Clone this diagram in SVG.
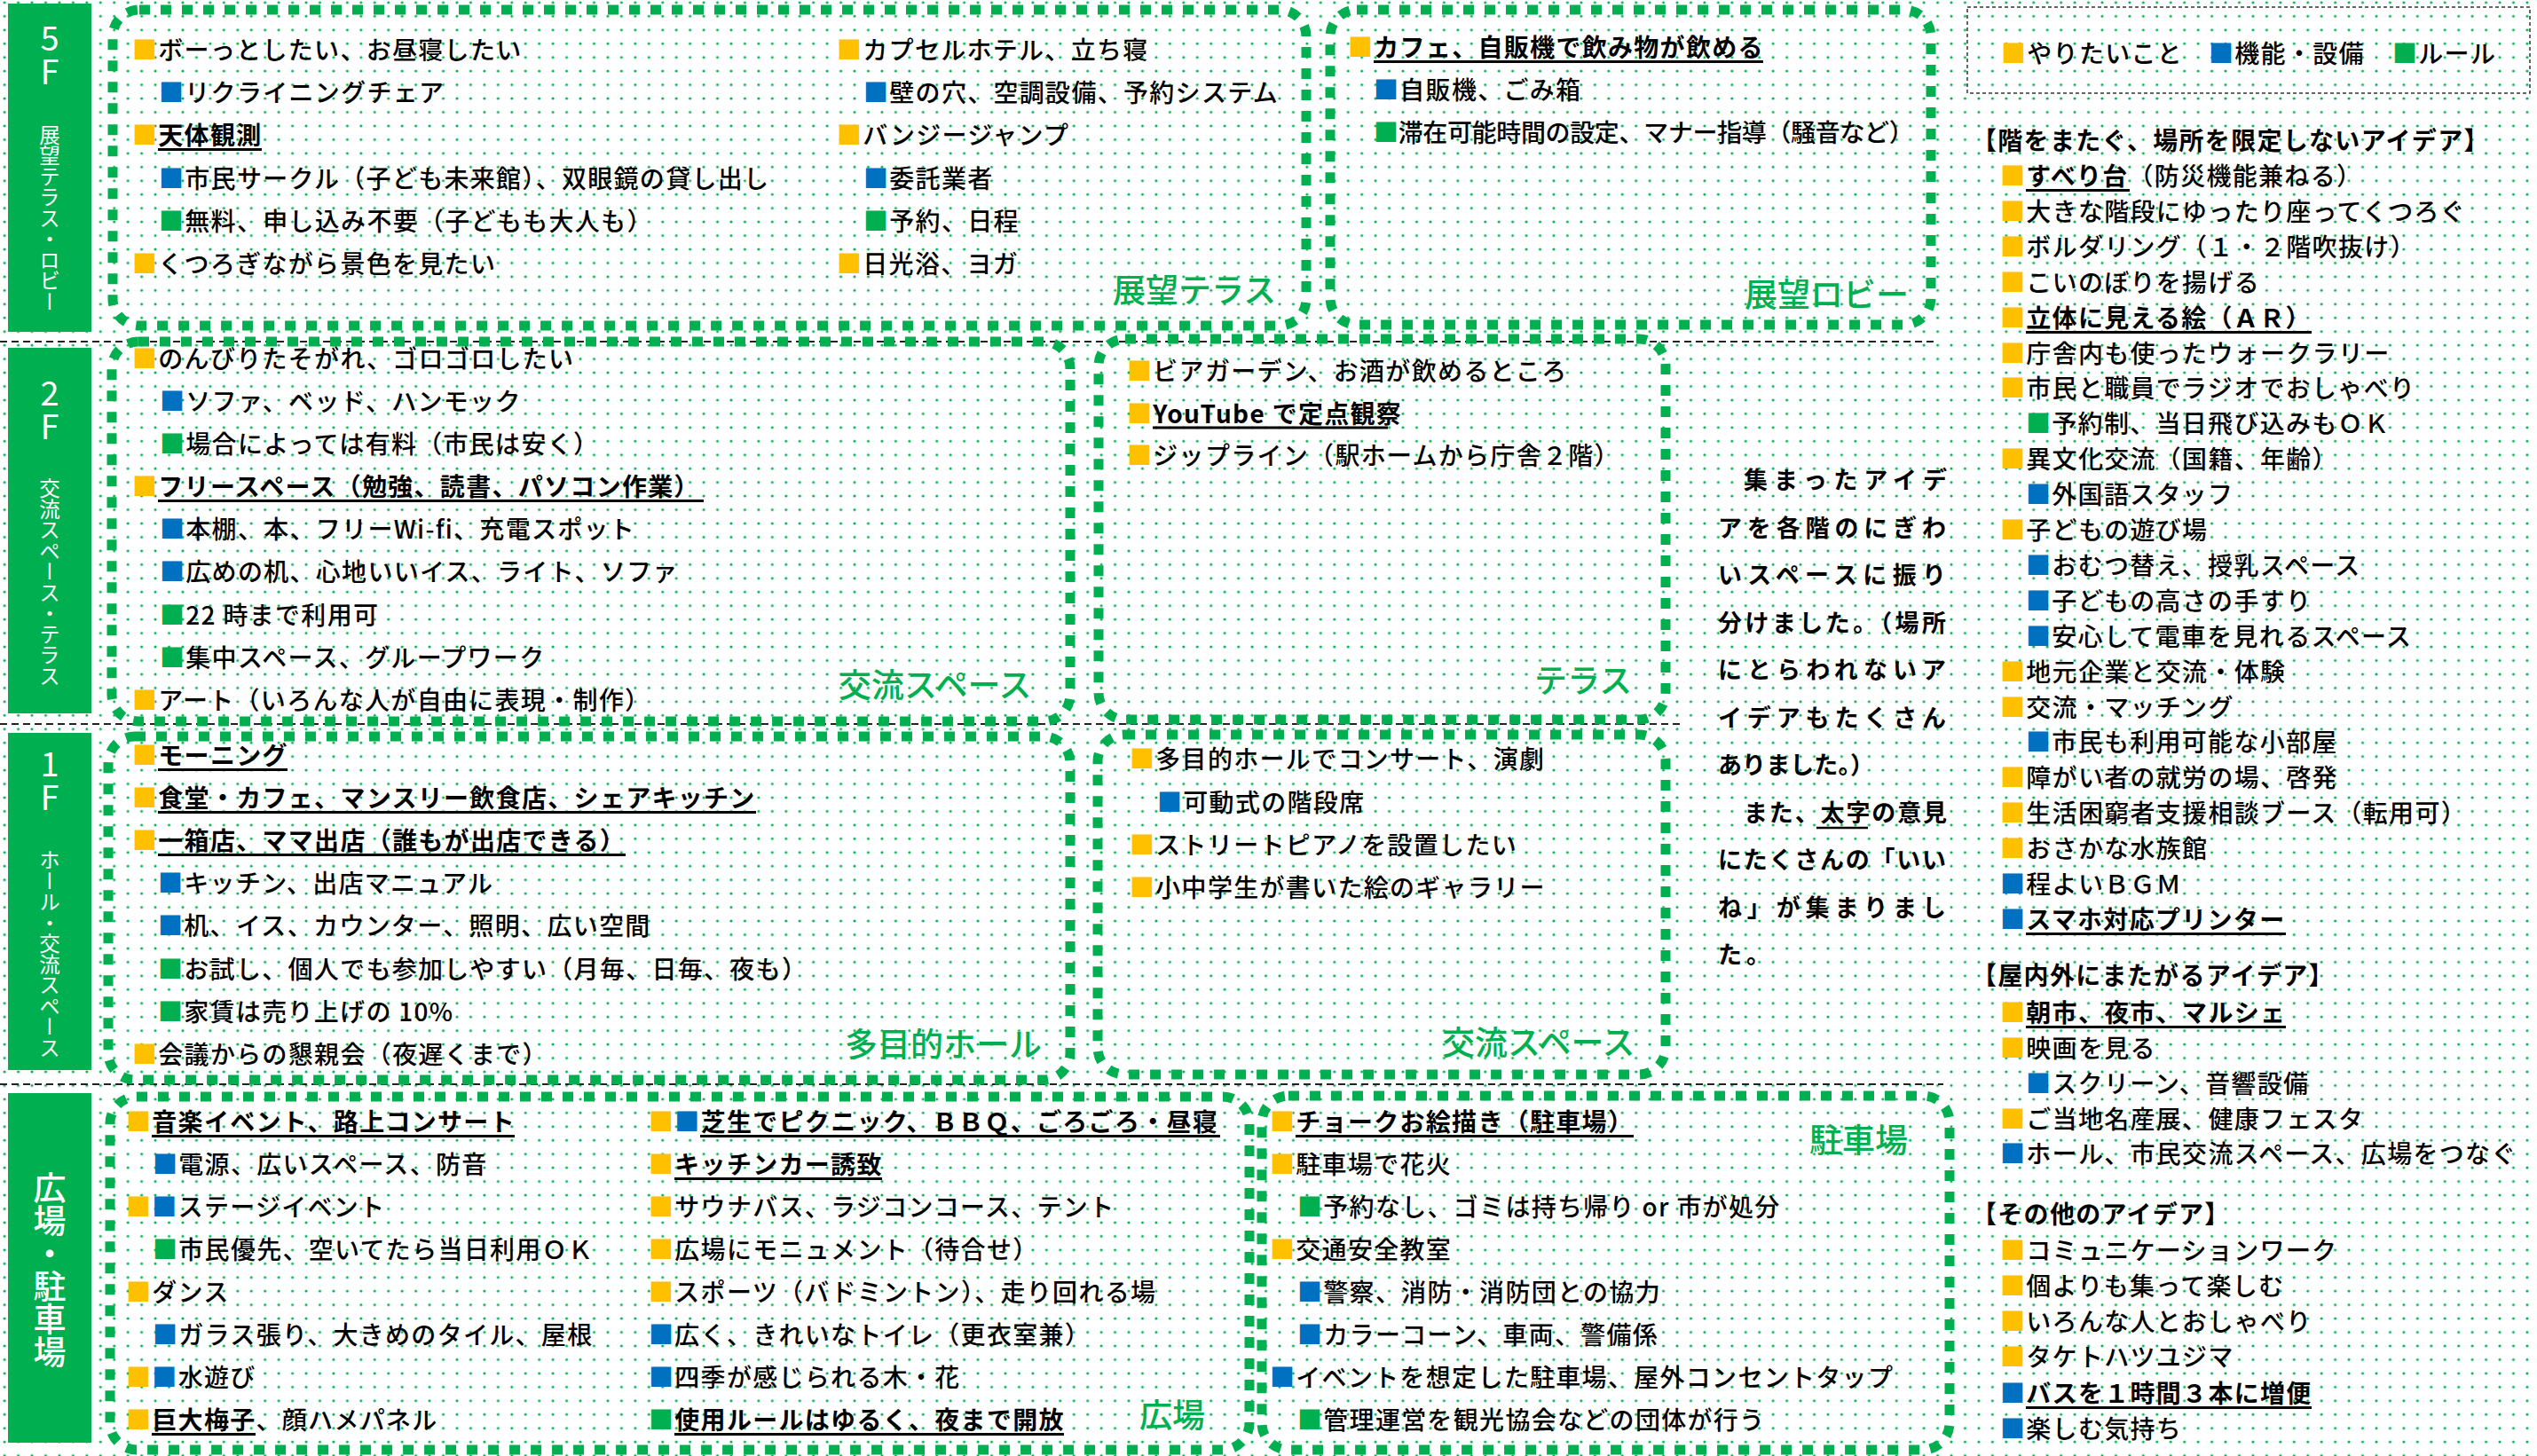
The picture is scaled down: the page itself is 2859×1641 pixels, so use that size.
<svg xmlns="http://www.w3.org/2000/svg" width="2859" height="1641" viewBox="0 0 2859 1641">
<defs>
<pattern id="dots" width="15.45" height="15.45" patternUnits="userSpaceOnUse" x="12.875" y="10.575">
<circle cx="7.725" cy="7.725" r="1.55" fill="#00B050"/>
</pattern>
<style>
text{font-family:"Noto Sans CJK JP","Noto Sans",sans-serif;}
.t{font-size:28px;letter-spacing:1.3px;fill:#000;font-weight:500;}
.b{font-weight:bold;}
.y{fill:#FFC000;}
.u{fill:#0070C0;}
.g{fill:#00B050;}
.box{fill:none;stroke:#00B050;stroke-width:11;stroke-dasharray:12 12;}
.ul{stroke:#000;stroke-width:3;}
.sep{stroke:#222;stroke-width:2;stroke-dasharray:8 5;fill:none;}
.lab{fill:#00B050;}
.num{writing-mode:vertical-rl;text-orientation:upright;fill:#fff;font-size:38px;text-anchor:middle;}
.area{font-size:37px;fill:#00B050;font-weight:500;}
.vt{writing-mode:vertical-rl;fill:#fff;text-anchor:middle;}
.mid{font-size:27px;font-weight:bold;fill:#000;}
</style>
</defs>
<rect width="2859" height="1641" fill="#fff"/>
<rect width="2859" height="1641" fill="url(#dots)"/>

<g id="separators">
<line class="sep" x1="0" y1="385" x2="2180" y2="385"/>
<line class="sep" x1="0" y1="816" x2="1893" y2="816"/>
<line class="sep" x1="0" y1="1222" x2="2190" y2="1222"/>
</g>

<g id="floor-5F-label">
<rect class="lab" x="9" y="4" width="94" height="370"/>
<text class="num" x="56" y="62">5F</text>
<text class="vt" x="56" y="246" font-size="23.5">展望テラス・ロビー</text>
</g>
<g id="floor-2F-label">
<rect class="lab" x="9" y="392" width="94" height="412"/>
<text class="num" x="56" y="462">2F</text>
<text class="vt" x="56" y="656" font-size="23.5">交流スペース・テラス</text>
</g>
<g id="floor-1F-label">
<rect class="lab" x="9" y="826" width="94" height="380"/>
<text class="num" x="56" y="880">1F</text>
<text class="vt" x="56" y="1075" font-size="23.5">ホール・交流スペース</text>
</g>
<g id="floor-plaza-label">
<rect class="lab" x="9" y="1232" width="94" height="394"/>
<text class="vt" x="56" y="1431" font-size="37" font-weight="500">広場・駐車場</text>
</g>

<g id="terrace-5F">
<rect class="box" x="127" y="11" width="1345" height="356" rx="30"/>
<text class="t" x="149" y="67"><tspan class="y">■</tspan>ボーっとしたい、お昼寝したい</text>
<text class="t" x="179" y="115"><tspan class="u">■</tspan>リクライニングチェア</text>
<text class="t" x="149" y="163"><tspan class="y">■</tspan><tspan class="b">天体観測</tspan></text>
<line class="ul" x1="178" y1="168.5" x2="295" y2="168.5"/>
<text class="t" x="179" y="212"><tspan class="u">■</tspan>市民サークル（子ども未来館）、双眼鏡の貸し出し</text>
<text class="t" x="179" y="260"><tspan class="g">■</tspan>無料、申し込み不要（子どもも大人も）</text>
<text class="t" x="149" y="308"><tspan class="y">■</tspan>くつろぎながら景色を見たい</text>
<text class="t" x="943" y="67"><tspan class="y">■</tspan>カプセルホテル、立ち寝</text>
<text class="t" x="973" y="115"><tspan class="u">■</tspan>壁の穴、空調設備、予約システム</text>
<text class="t" x="943" y="163"><tspan class="y">■</tspan>バンジージャンプ</text>
<text class="t" x="973" y="212"><tspan class="u">■</tspan>委託業者</text>
<text class="t" x="973" y="260"><tspan class="g">■</tspan>予約、日程</text>
<text class="t" x="943" y="308"><tspan class="y">■</tspan>日光浴、ヨガ</text>
<text class="area" x="1254" y="341">展望テラス</text>
</g>

<g id="lobby-5F">
<rect class="box" x="1499" y="11" width="677" height="355" rx="30"/>
<text class="t" x="1519" y="64"><tspan class="y">■</tspan><tspan class="b">カフェ、自販機で飲み物が飲める</tspan></text>
<line class="ul" x1="1548" y1="69.5" x2="1987" y2="69.5"/>
<text class="t" x="1548" y="112"><tspan class="u">■</tspan>自販機、ごみ箱</text>
<text class="t" x="1548" y="160" textLength="610" lengthAdjust="spacing"><tspan class="g">■</tspan>滞在可能時間の設定、マナー指導（騒音など）</text>
<text class="area" x="1966" y="346">展望ロビー</text>
</g>

<g id="legend">
<rect x="2217" y="8" width="634" height="97" fill="none" stroke="#333" stroke-width="1.5" stroke-dasharray="4 3"/>
<text class="t" x="2255" y="71"><tspan class="y">■</tspan>やりたいこと</text>
<text class="t" x="2489" y="71"><tspan class="u">■</tspan>機能・設備</text>
<text class="t" x="2696" y="71"><tspan class="g">■</tspan>ルール</text>
</g>

<g id="exchange-2F">
<rect class="box" x="126" y="385" width="1080" height="428" rx="30"/>
<text class="t" x="149" y="415"><tspan class="y">■</tspan>のんびりたそがれ、ゴロゴロしたい</text>
<text class="t" x="180" y="463"><tspan class="u">■</tspan>ソファ、ベッド、ハンモック</text>
<text class="t" x="180" y="511"><tspan class="g">■</tspan>場合によっては有料（市民は安く）</text>
<text class="t" x="149" y="559"><tspan class="y">■</tspan><tspan class="b">フリースペース（勉強、読書、パソコン作業）</tspan></text>
<line class="ul" x1="178" y1="564.5" x2="793" y2="564.5"/>
<text class="t" x="180" y="607"><tspan class="u">■</tspan>本棚、本、フリーWi-fi、充電スポット</text>
<text class="t" x="180" y="655"><tspan class="u">■</tspan>広めの机、心地いいイス、ライト、ソファ</text>
<text class="t" x="180" y="704"><tspan class="g">■</tspan>22 時まで利用可</text>
<text class="t" x="180" y="752"><tspan class="g">■</tspan>集中スペース、グループワーク</text>
<text class="t" x="149" y="800"><tspan class="y">■</tspan>アート（いろんな人が自由に表現・制作）</text>
<text class="area" x="945" y="786">交流スペース</text>
</g>

<g id="terrace-2F">
<rect class="box" x="1238" y="382" width="639" height="429" rx="30"/>
<text class="t" x="1270" y="429"><tspan class="y">■</tspan>ビアガーデン、お酒が飲めるところ</text>
<text class="t" x="1270" y="477"><tspan class="y">■</tspan><tspan class="b">YouTube で定点観察</tspan></text>
<line class="ul" x1="1299" y1="482" x2="1564" y2="482"/>
<text class="t" x="1270" y="524"><tspan class="y">■</tspan>ジップライン（駅ホームから庁舎２階）</text>
<text class="area" x="1729" y="781">テラス</text>
</g>

<g id="note">
<text class="mid" x="1965" y="551" textLength="229" lengthAdjust="spacing">集まったアイデ</text>
<text class="mid" x="1936" y="604.5" textLength="257" lengthAdjust="spacing">アを各階のにぎわ</text>
<text class="mid" x="1936" y="658" textLength="257" lengthAdjust="spacing">いスペースに振り</text>
<text class="mid" x="1936" y="711.5" textLength="257" lengthAdjust="spacing">分けました。（場所</text>
<text class="mid" x="1936" y="765" textLength="257" lengthAdjust="spacing">にとらわれないア</text>
<text class="mid" x="1936" y="818.5" textLength="257" lengthAdjust="spacing">イデアもたくさん</text>
<text class="mid" x="1936" y="872" textLength="176" lengthAdjust="spacing">ありました。）</text>
<text class="mid" x="1965" y="925.5" textLength="229" lengthAdjust="spacing">また、太字の意見</text>
<line x1="2047" y1="933" x2="2105" y2="933" stroke="#000" stroke-width="2.5"/>
<text class="mid" x="1936" y="979" textLength="257" lengthAdjust="spacing">にたくさんの「いい</text>
<text class="mid" x="1936" y="1032.5" textLength="257" lengthAdjust="spacing">ね」が集まりまし</text>
<text class="mid" x="1936" y="1086" letter-spacing="5">た。</text>
</g>

<g id="hall-1F">
<rect class="box" x="122" y="830" width="1084" height="387" rx="30"/>
<text class="t" x="149" y="862"><tspan class="y">■</tspan><tspan class="b">モーニング</tspan></text>
<line class="ul" x1="178" y1="867.5" x2="324" y2="867.5"/>
<text class="t" x="149" y="910"><tspan class="y">■</tspan><tspan class="b">食堂・カフェ、マンスリー飲食店、シェアキッチン</tspan></text>
<line class="ul" x1="178" y1="915.5" x2="852" y2="915.5"/>
<text class="t" x="149" y="958"><tspan class="y">■</tspan><tspan class="b">一箱店、ママ出店（誰もが出店できる）</tspan></text>
<line class="ul" x1="178" y1="963.5" x2="705" y2="963.5"/>
<text class="t" x="178" y="1006"><tspan class="u">■</tspan>キッチン、出店マニュアル</text>
<text class="t" x="178" y="1054"><tspan class="u">■</tspan>机、イス、カウンター、照明、広い空間</text>
<text class="t" x="178" y="1103"><tspan class="g">■</tspan>お試し、個人でも参加しやすい（月毎、日毎、夜も）</text>
<text class="t" x="178" y="1151"><tspan class="g">■</tspan>家賃は売り上げの 10%</text>
<text class="t" x="149" y="1199"><tspan class="y">■</tspan>会議からの懇親会（夜遅くまで）</text>
<text class="area" x="952" y="1191">多目的ホール</text>
</g>

<g id="exchange-1F">
<rect class="box" x="1237" y="828" width="640" height="383" rx="30"/>
<text class="t" x="1273" y="866"><tspan class="y">■</tspan>多目的ホールでコンサート、演劇</text>
<text class="t" x="1304" y="915"><tspan class="u">■</tspan>可動式の階段席</text>
<text class="t" x="1273" y="963"><tspan class="y">■</tspan>ストリートピアノを設置したい</text>
<text class="t" x="1273" y="1011"><tspan class="y">■</tspan>小中学生が書いた絵のギャラリー</text>
<text class="area" x="1625" y="1189">交流スペース</text>
</g>

<g id="plaza">
<rect class="box" x="124" y="1236" width="1284" height="398" rx="30"/>
<text class="t" x="142" y="1275"><tspan class="y">■</tspan><tspan class="b">音楽イベント、路上コンサート</tspan></text>
<line class="ul" x1="171" y1="1280.5" x2="580" y2="1280.5"/>
<text class="t" x="172" y="1323"><tspan class="u">■</tspan>電源、広いスペース、防音</text>
<text class="t" x="142" y="1371"><tspan class="y">■</tspan><tspan class="u">■</tspan>ステージイベント</text>
<text class="t" x="172" y="1419"><tspan class="g">■</tspan>市民優先、空いてたら当日利用ＯＫ</text>
<text class="t" x="142" y="1467"><tspan class="y">■</tspan>ダンス</text>
<text class="t" x="172" y="1515"><tspan class="u">■</tspan>ガラス張り、大きめのタイル、屋根</text>
<text class="t" x="142" y="1563"><tspan class="y">■</tspan><tspan class="u">■</tspan>水遊び</text>
<text class="t" x="142" y="1611"><tspan class="y">■</tspan><tspan class="b">巨大梅子</tspan>、顔ハメパネル</text>
<line class="ul" x1="171" y1="1616.5" x2="288" y2="1616.5"/>
<text class="t" x="731" y="1275"><tspan class="y">■</tspan><tspan class="u">■</tspan><tspan class="b">芝生でピクニック、ＢＢＱ、ごろごろ・昼寝</tspan></text>
<line class="ul" x1="789" y1="1280.5" x2="1375" y2="1280.5"/>
<text class="t" x="731" y="1323"><tspan class="y">■</tspan><tspan class="b">キッチンカー誘致</tspan></text>
<line class="ul" x1="760" y1="1328.5" x2="994" y2="1328.5"/>
<text class="t" x="731" y="1371"><tspan class="y">■</tspan>サウナバス、ラジコンコース、テント</text>
<text class="t" x="731" y="1419"><tspan class="y">■</tspan>広場にモニュメント（待合せ）</text>
<text class="t" x="731" y="1467"><tspan class="y">■</tspan>スポーツ（バドミントン）、走り回れる場</text>
<text class="t" x="731" y="1515"><tspan class="u">■</tspan>広く、きれいなトイレ（更衣室兼）</text>
<text class="t" x="731" y="1563"><tspan class="u">■</tspan>四季が感じられる木・花</text>
<text class="t" x="731" y="1611"><tspan class="g">■</tspan><tspan class="b">使用ルールはゆるく、夜まで開放</tspan></text>
<line class="ul" x1="760" y1="1616.5" x2="1199" y2="1616.5"/>
<text class="area" x="1284" y="1609">広場</text>
</g>

<g id="parking">
<rect class="box" x="1422" y="1235" width="775" height="399" rx="30"/>
<text class="t" x="1431" y="1275"><tspan class="y">■</tspan><tspan class="b">チョークお絵描き（駐車場）</tspan></text>
<line class="ul" x1="1460" y1="1280.5" x2="1841" y2="1280.5"/>
<text class="t" x="1431" y="1323"><tspan class="y">■</tspan>駐車場で花火</text>
<text class="t" x="1462" y="1371"><tspan class="g">■</tspan>予約なし、ゴミは持ち帰り or 市が処分</text>
<text class="t" x="1431" y="1419"><tspan class="y">■</tspan>交通安全教室</text>
<text class="t" x="1462" y="1467"><tspan class="u">■</tspan>警察、消防・消防団との協力</text>
<text class="t" x="1462" y="1515"><tspan class="u">■</tspan>カラーコーン、車両、警備係</text>
<text class="t" x="1431" y="1563"><tspan class="u">■</tspan>イベントを想定した駐車場、屋外コンセントタップ</text>
<text class="t" x="1462" y="1611"><tspan class="g">■</tspan>管理運営を観光協会などの団体が行う</text>
<text class="area" x="2039" y="1299">駐車場</text>
</g>

<g id="ideas-anywhere">
<text class="t b" x="2222" y="169">【階をまたぐ、場所を限定しないアイデア】</text>
<text class="t" x="2254" y="209"><tspan class="y">■</tspan><tspan class="b">すべり台</tspan>（防災機能兼ねる）</text>
<line class="ul" x1="2283" y1="214.5" x2="2400" y2="214.5"/>
<text class="t" x="2254" y="249"><tspan class="y">■</tspan>大きな階段にゆったり座ってくつろぐ</text>
<text class="t" x="2254" y="289"><tspan class="y">■</tspan>ボルダリング（１・２階吹抜け）</text>
<text class="t" x="2254" y="329"><tspan class="y">■</tspan>こいのぼりを揚げる</text>
<text class="t" x="2254" y="369"><tspan class="y">■</tspan><tspan class="b">立体に見える絵（ＡＲ）</tspan></text>
<line class="ul" x1="2283" y1="374.5" x2="2605" y2="374.5"/>
<text class="t" x="2254" y="409"><tspan class="y">■</tspan>庁舎内も使ったウォークラリー</text>
<text class="t" x="2254" y="448"><tspan class="y">■</tspan>市民と職員でラジオでおしゃべり</text>
<text class="t" x="2283" y="488"><tspan class="g">■</tspan>予約制、当日飛び込みもＯＫ</text>
<text class="t" x="2254" y="528"><tspan class="y">■</tspan>異文化交流（国籍、年齢）</text>
<text class="t" x="2283" y="568"><tspan class="u">■</tspan>外国語スタッフ</text>
<text class="t" x="2254" y="608"><tspan class="y">■</tspan>子どもの遊び場</text>
<text class="t" x="2283" y="648"><tspan class="u">■</tspan>おむつ替え、授乳スペース</text>
<text class="t" x="2283" y="688"><tspan class="u">■</tspan>子どもの高さの手すり</text>
<text class="t" x="2283" y="728"><tspan class="u">■</tspan>安心して電車を見れるスペース</text>
<text class="t" x="2254" y="768"><tspan class="y">■</tspan>地元企業と交流・体験</text>
<text class="t" x="2254" y="808"><tspan class="y">■</tspan>交流・マッチング</text>
<text class="t" x="2283" y="847"><tspan class="u">■</tspan>市民も利用可能な小部屋</text>
<text class="t" x="2254" y="887"><tspan class="y">■</tspan>障がい者の就労の場、啓発</text>
<text class="t" x="2254" y="927"><tspan class="y">■</tspan>生活困窮者支援相談ブース（転用可）</text>
<text class="t" x="2254" y="967"><tspan class="y">■</tspan>おさかな水族館</text>
<text class="t" x="2254" y="1007"><tspan class="u">■</tspan>程よいＢＧＭ</text>
<text class="t" x="2254" y="1047"><tspan class="u">■</tspan><tspan class="b">スマホ対応プリンター</tspan></text>
<line class="ul" x1="2283" y1="1052.5" x2="2576" y2="1052.5"/>
</g>

<g id="ideas-in-out">
<text class="t b" x="2222" y="1110">【屋内外にまたがるアイデア】</text>
<text class="t" x="2254" y="1152"><tspan class="y">■</tspan><tspan class="b">朝市、夜市、マルシェ</tspan></text>
<line class="ul" x1="2283" y1="1157.5" x2="2576" y2="1157.5"/>
<text class="t" x="2254" y="1192"><tspan class="y">■</tspan>映画を見る</text>
<text class="t" x="2283" y="1232"><tspan class="u">■</tspan>スクリーン、音響設備</text>
<text class="t" x="2254" y="1272"><tspan class="y">■</tspan>ご当地名産展、健康フェスタ</text>
<text class="t" x="2254" y="1311"><tspan class="u">■</tspan>ホール、市民交流スペース、広場をつなぐ</text>
</g>

<g id="ideas-other">
<text class="t b" x="2222" y="1379">【その他のアイデア】</text>
<text class="t" x="2254" y="1420"><tspan class="y">■</tspan>コミュニケーションワーク</text>
<text class="t" x="2254" y="1460"><tspan class="y">■</tspan>個よりも集って楽しむ</text>
<text class="t" x="2254" y="1500"><tspan class="y">■</tspan>いろんな人とおしゃべり</text>
<text class="t" x="2254" y="1540"><tspan class="y">■</tspan>タケトハツユジマ</text>
<text class="t" x="2254" y="1581"><tspan class="u">■</tspan><tspan class="b">バスを１時間３本に増便</tspan></text>
<line class="ul" x1="2283" y1="1586.5" x2="2605" y2="1586.5"/>
<text class="t" x="2254" y="1621"><tspan class="u">■</tspan>楽しむ気持ち</text>
</g>
</svg>
